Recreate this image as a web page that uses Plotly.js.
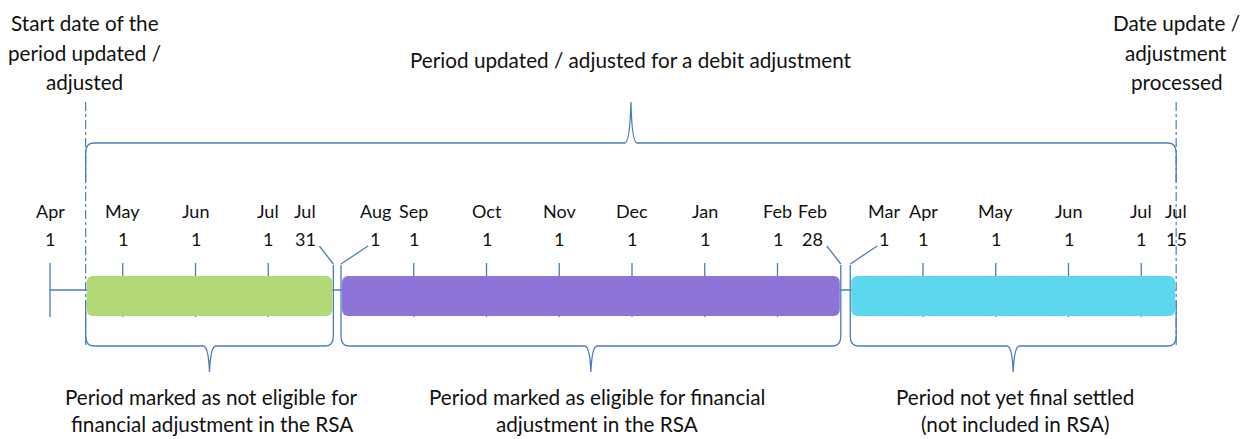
<!DOCTYPE html>
<html><head><meta charset="utf-8">
<script src="https://cdn.plot.ly/plotly-3.0.1.min.js"></script>
<style>html,body{margin:0;padding:0;background:#fff;overflow:hidden}#chart{width:1249px;height:439px}</style>
</head><body><div id="chart"></div>
<script>
// ---------- DATA (timeline positions in months from Apr 1) ----------
const tickMonths = ['Apr','May','Jun','Jul','Jul','Aug','Sep','Oct','Nov','Dec','Jan','Feb','Feb','Mar','Apr','May','Jun','Jul','Jul'];
const tickDays   = ['1','1','1','1','31','1','1','1','1','1','1','1','28','1','1','1','1','1','15'];
const tickPos    = [0,1,2,3,3.895,4,5,6,7,8,9,10,10.87,11,12,13,14,15,15.48];
const tickKind   = ['tick','tick','tick','tick','end','start','tick','tick','tick','tick','tick','tick','end','start','tick','tick','tick','tick','edge'];

const periodStart = [0.49, 4, 11];
const periodEnd   = [3.895, 10.87, 15.48];
const periodLine1 = ['Period marked as not eligible for','Period marked as eligible for financial','Period not yet final settled'];
const periodLine2 = ['financial adjustment in the RSA','adjustment in the RSA','(not included in RSA)'];
const periodColors = ['#b2d877','#8e74d9','#5dd7ed'];

const overallLabel = 'Period updated / adjusted for a debit adjustment';
const startMarkerLines = ['Start date of the','period updated /','adjusted'];
const endMarkerLines   = ['Date update /','adjustment','processed'];
const startMarkerPos = 0.49;
const endMarkerPos   = 15.48;

// ---------- LAYOUT / STYLE ----------
const W = 1249, H = 439;
const ORIGIN_PX = 50, PX_PER_MONTH = 72.75;
const px = p => p / PX_PER_MONTH;
const BLUE = '#4a7ebb';
const FONT = 'Lato, "Open Sans", sans-serif';
const TXT = '#111111';
const BIG = 20.7, SMALL = 18;

const shapes = [];
function line(x0,y0,x1,y1,extra){
  const s = {type:'line',xref:'x',yref:'y',x0:x0,y0:y0,x1:x1,y1:y1,layer:'below',line:{color:BLUE,width:1.3}};
  if (extra) Object.assign(s.line, extra);
  shapes.push(s);
}
function path(d){ shapes.push({type:'path',xref:'x',yref:'y',path:d,layer:'below',line:{color:BLUE,width:1.3}}); }

// axis line
line(tickPos[0], 290, tickPos[tickPos.length-1], 290);
// ticks and leader lines
tickPos.forEach((p,i)=>{
  const k = tickKind[i];
  if (k==='tick') line(p,263,p,317);
  else if (k==='end') line(p-px(14),246,p,264);
  else if (k==='start') line(p,264,p+px(27),246);
});
// dashed markers
line(startMarkerPos,102,startMarkerPos,345,{dash:'dashdot',width:1.2});
line(endMarkerPos,102,endMarkerPos,345,{dash:'dashdot',width:1.2});

// top brace
(function(){
  const x0=startMarkerPos, x1=endMarkerPos, xm=(x0+x1)/2, y=143;
  path(`M ${x0},182 L ${x0},${y+10} Q ${x0},${y} ${x0+px(8)},${y} L ${xm-px(6)},${y} Q ${xm-px(1)},${y-1} ${xm},102 Q ${xm+px(1)},${y-1} ${xm+px(6)},${y} L ${x1-px(8)},${y} Q ${x1},${y} ${x1},${y+10} L ${x1},182`);
})();
// bottom braces
periodStart.forEach((x0,i)=>{
  const x1=periodEnd[i], xm=(x0+x1)/2, y=346;
  const t0 = i===0 ? 300 : 265, t1 = i===periodStart.length-1 ? 300 : 265;
  path(`M ${x0},${t0} L ${x0},${y-10} Q ${x0},${y} ${x0+px(8)},${y} L ${xm-px(6)},${y} Q ${xm-px(1)},${y+1} ${xm},372 Q ${xm+px(1)},${y+1} ${xm+px(6)},${y} L ${x1-px(8)},${y} Q ${x1},${y} ${x1},${y-10} L ${x1},${t1}`);
});

// annotations
const ann = [];
function txt(x,y,t,size,xshift){
  ann.push({x:x,y:y,xref:'x',yref:'y',text:t,showarrow:false,xanchor:'center',yanchor:'middle',xshift:xshift||0,font:{family:FONT,size:size,color:TXT}});
}
tickPos.forEach((p,i)=>{
  const k = tickKind[i];
  const sh = k==='end' ? -28 : (k==='start' ? 34 : 0);
  txt(p,211,tickMonths[i],SMALL,sh);
  txt(p,239,tickDays[i],SMALL,sh);
});
const topYs = [23,53,82];
startMarkerLines.forEach((t,i)=>txt(startMarkerPos,topYs[i],t,BIG,-1));
endMarkerLines.forEach((t,i)=>txt(endMarkerPos,topYs[i],t,BIG,0));
txt((startMarkerPos+endMarkerPos)/2,60,overallLabel,BIG,0);
periodStart.forEach((x0,i)=>{
  const xm=(x0+periodEnd[i])/2;
  const sh = i===1 ? 6 : 2;
  txt(xm,397,periodLine1[i],BIG,sh);
  txt(xm,424,periodLine2[i],BIG,sh);
});

const bars = {
  type:'bar', orientation:'h',
  base: periodStart.map(v=>v+px(1)),
  x: periodStart.map((v,i)=>periodEnd[i]-v-px(2)),
  y: periodStart.map(()=>296),
  width: 40,
  marker:{color:periodColors, cornerradius:6, line:{width:0}},
  hoverinfo:'skip', showlegend:false
};

const layout = {
  width:W, height:H, autosize:false,
  margin:{l:0,r:0,t:0,b:0},
  paper_bgcolor:'#fff', plot_bgcolor:'#fff',
  showlegend:false,
  xaxis:{range:[-ORIGIN_PX/PX_PER_MONTH,(W-ORIGIN_PX)/PX_PER_MONTH],visible:false,fixedrange:true},
  yaxis:{range:[H,0],visible:false,fixedrange:true},
  shapes:shapes, annotations:ann
};
Plotly.newPlot('chart',[bars],layout,{staticPlot:true,displayModeBar:false});
</script></body></html>
